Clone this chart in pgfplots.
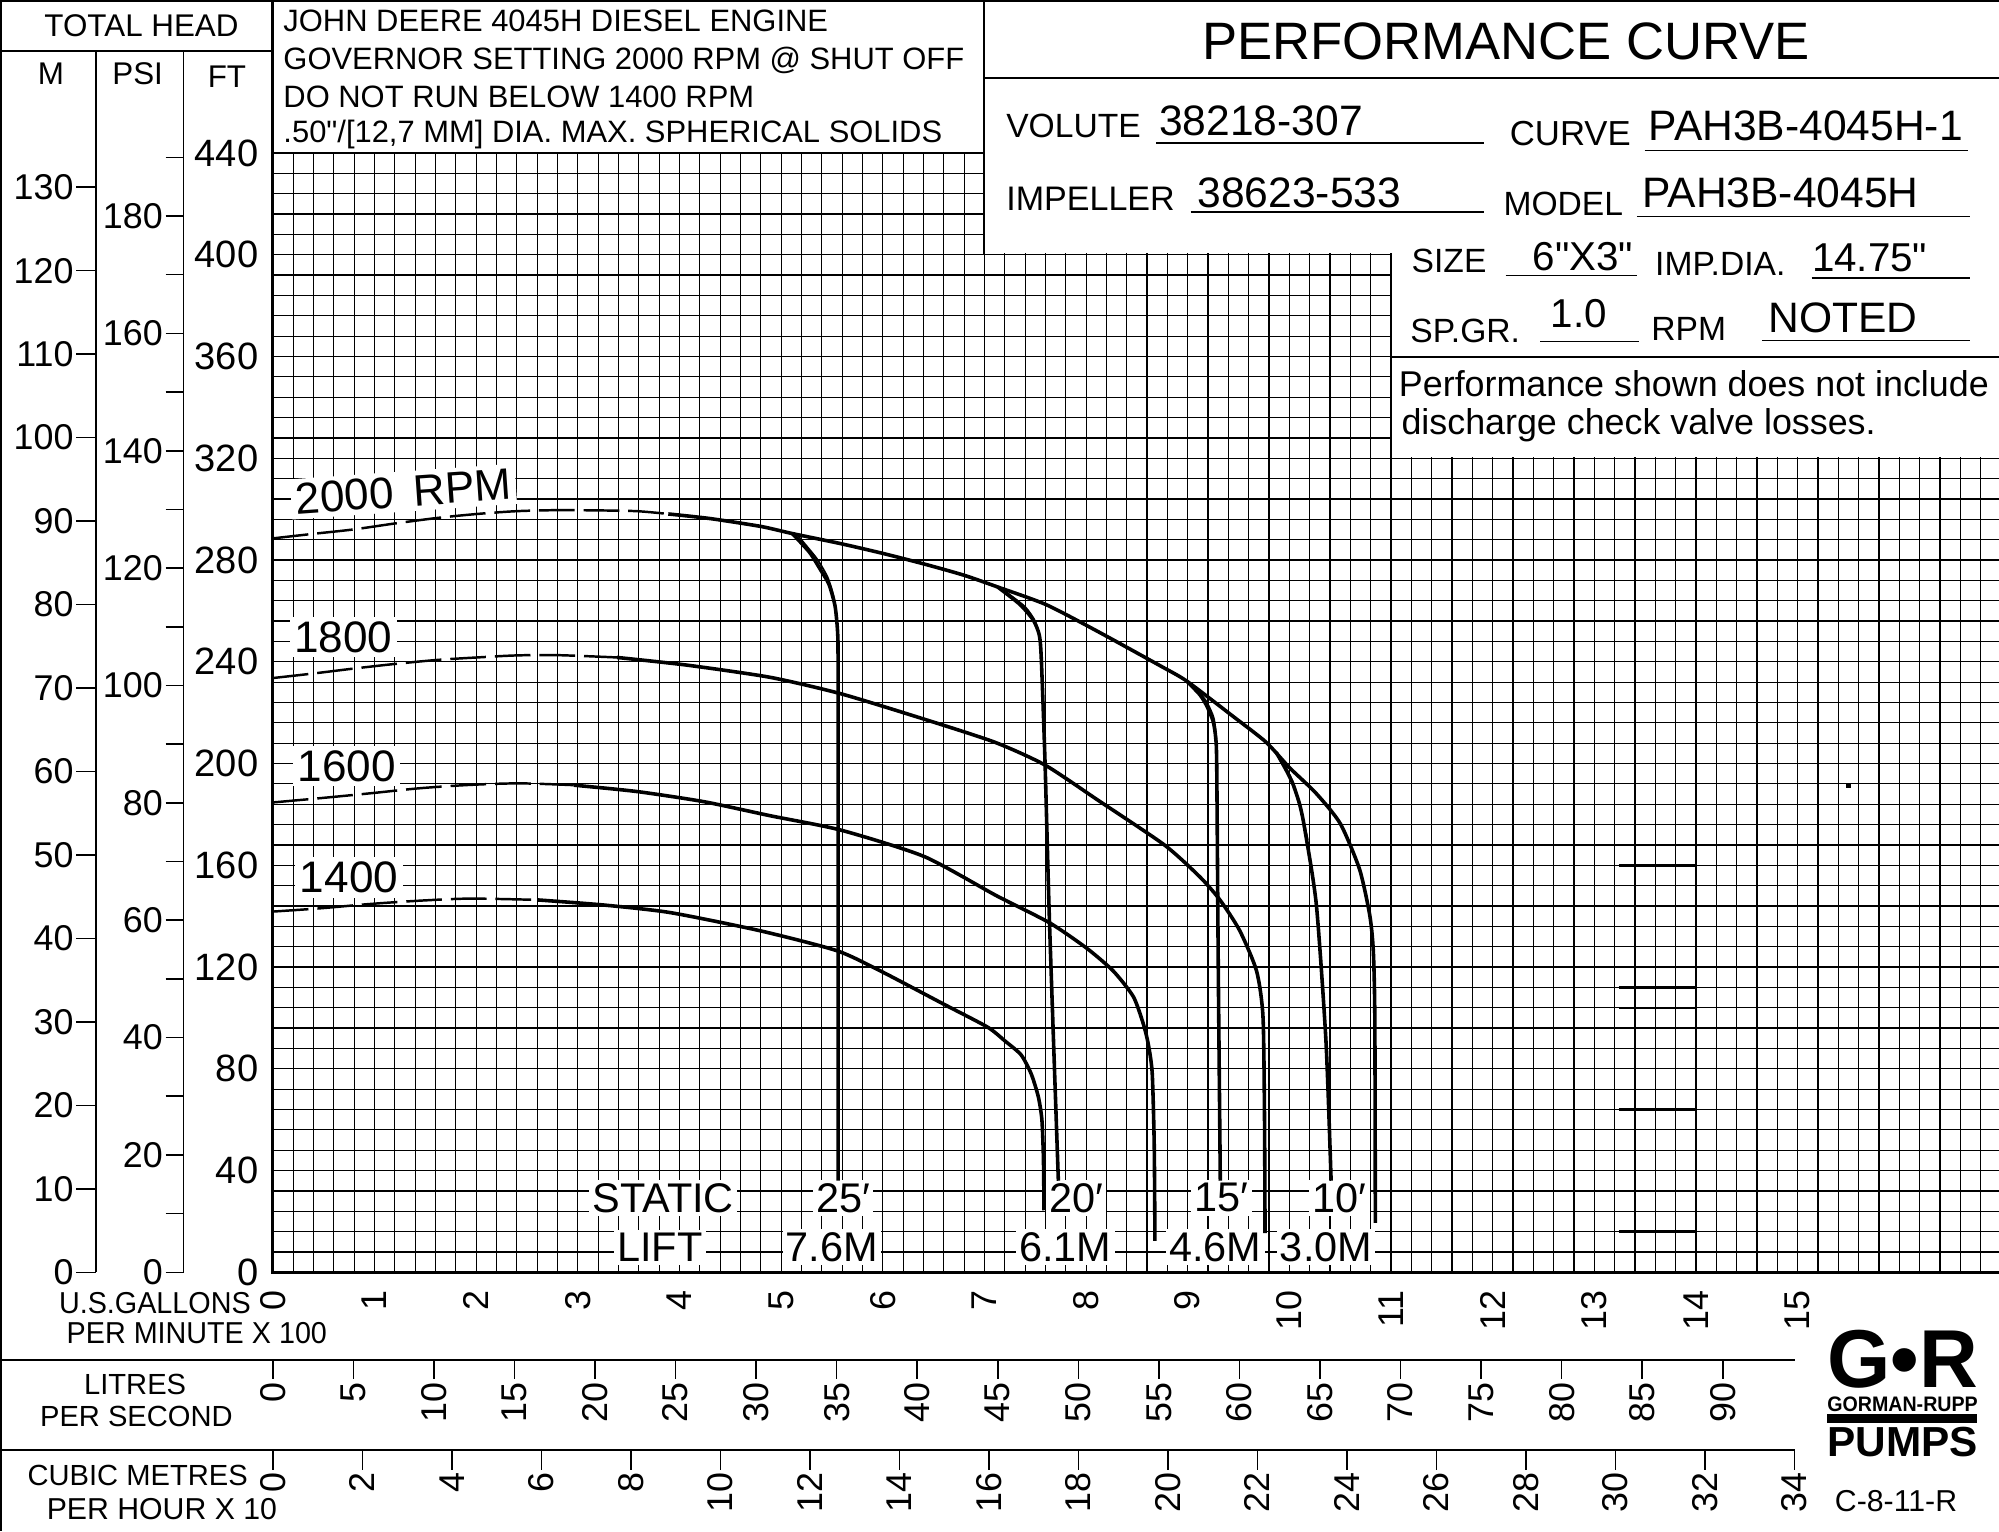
\documentclass[border=0pt]{standalone}
\usepackage{fontspec}
\setmainfont{Liberation Sans}
\newfontfamily\narrowfont{Liberation Sans}[FakeStretch=0.95]
\newfontfamily\qfont{Liberation Sans}
\usepackage{graphicx}
\usepackage{pgfplots}
\pgfplotsset{compat=1.18}
\newcommand{\FS}[1]{\fontsize{#1}{#1}\selectfont}
\newcommand{\dq}{{\qfont\symbol{34}}}

\begin{document}
\begin{tikzpicture}
\useasboundingbox (0,0) rectangle (313.6mm,240.2mm);
\begin{axis}[
  at={(42.8mm,40.6mm)}, anchor=south west, scale only axis,
  width=270.8mm, height=175.6mm,
  xmin=0, xmax=1698, ymin=0, ymax=440,
  axis line style={draw=none},
  xtick={0,20,...,1680}, ytick={0,8,...,440},
  xticklabels={}, yticklabels={},
  major tick length=0pt,
  grid=major,
  major grid style={black, line width=0.55pt},
]
% cut-outs of the grid
\fill[white] (axis cs:700.6,400.5) rectangle (axis cs:1698,441);
\fill[white] (axis cs:1100.6,320.5) rectangle (axis cs:1698,441);

% speed labels
\node[fill=white, inner sep=2pt, rotate=4] at (axis cs:128.4,306.9) {\FS{19.7pt}2000\hspace{0.45em}RPM};
\node[fill=white, inner sep=2pt] at (axis cs:69.4,249.6) {\FS{19.7pt}1800};
\node[fill=white, inner sep=2pt] at (axis cs:72.7,199.1) {\FS{19.7pt}1600};
\node[fill=white, inner sep=2pt] at (axis cs:75,155.2) {\FS{19.7pt}1400};

% static lift labels
\node[fill=white, inner sep=1.5pt] at (axis cs:384,29.3) {\FS{18.5pt}STATIC};
\node[fill=white, inner sep=1.5pt] at (axis cs:380.6,9.8) {\FS{18.5pt}LIFT};
\node[fill=white, inner sep=1.5pt] at (axis cs:561,29.3) {\FS{18.5pt}25′};
\node[fill=white, inner sep=1.5pt] at (axis cs:550,9.8) {\FS{18.5pt}7.6M};
\node[fill=white, inner sep=1.5pt] at (axis cs:790,29.3) {\FS{18.5pt}20′};
\node[fill=white, inner sep=1.5pt] at (axis cs:779.5,9.8) {\FS{18.5pt}6.1M};
\node[fill=white, inner sep=1.5pt] at (axis cs:933,29.3) {\FS{18.5pt}15′};
\node[fill=white, inner sep=1.5pt] at (axis cs:927,9.8) {\FS{18.5pt}4.6M};
\node[fill=white, inner sep=1.5pt] at (axis cs:1049,29.3) {\FS{18.5pt}10′};
\node[fill=white, inner sep=1.5pt] at (axis cs:1036,9.8) {\FS{18.5pt}3.0M};

% ---- 2000 RPM ----
\addplot[black, line width=1.1pt, dash pattern=on 5.6mm off 1.4mm, smooth] coordinates {
 (0,288.5) (40,290.3) (79,292) (119,294.3) (161,296.5) (201,298.1) (240,299.2)
 (280,299.6) (319,299.5) (358,299.2) (389,298.1)};
\addplot[black, line width=1.6pt, smooth, tension=0.4] coordinates {
 (389,298.1) (430,296.3) (480,293.2) (511,290.4) (559,286.4) (600,282.6) (641,278.4)
 (680,274) (713,269.4) (761,262.4) (812,251.8) (873,238.4) (899,232.4) (945,218.4)
 (977,208.4) (1000,198.4) (1026,188.4) (1050,176.4) (1069,158.4) (1079,140.4)
 (1082.5,126.4) (1084,100) (1084.5,19.4)};
% 25 ft lift
\addplot[black, line width=1.6pt, smooth, tension=0.4] coordinates {
 (511,290.4) (528,283) (539,276) (547,270.5) (553,262) (555.5,252) (556,240) (556,150) (556,36)};
\addplot[black, line width=0.8pt, smooth, tension=0.4] coordinates {
 (516,289.8) (535,280.6) (546,273) (552,265) (554.8,255) (555.6,245)};
% 20 ft lift
\addplot[black, line width=1.6pt, smooth, tension=0.4] coordinates {
 (713,269.4) (735,262.5) (748,256.4) (754,250.4) (756,240.4) (759.6,200.4) (764,137.4) (772.7,36)};
\addplot[black, line width=0.8pt, smooth, tension=0.4] coordinates {
 (722,267.2) (740,261.6) (750,255.8) (755,248) (756.5,238)};
% 15 ft lift
\addplot[black, line width=1.6pt, smooth, tension=0.4] coordinates {
 (899,232.4) (912,227) (919,222.4) (925,216.5) (927.5,210) (928.5,198.4) (930,120) (932,36)};
\addplot[black, line width=0.8pt, smooth, tension=0.4] coordinates {
 (906,230.4) (918,224.6) (925.5,218) (928,210) (929,198)};
% 10 ft lift
\addplot[black, line width=1.6pt, smooth, tension=0.4] coordinates {
 (987,204.4) (996,198) (1003,192.4) (1010,184) (1015,174.4) (1026.5,144.4) (1036,90.4) (1041,36)};
\addplot[black, line width=0.8pt, smooth, tension=0.4] coordinates {
 (993,201.5) (1005,191) (1013,179) (1018,170)};

% ---- 1800 RPM ----
\addplot[black, line width=1.1pt, dash pattern=on 5.6mm off 1.4mm, smooth] coordinates {
 (0,233.6) (40,235.4) (79,237.3) (119,239.1) (161,240.7) (201,241.7) (240,242.5)
 (280,242.6) (338.5,241.7)};
\addplot[black, line width=1.6pt, smooth, tension=0.4] coordinates {
 (338.5,241.7) (407,238.7) (489,233.9) (559,227.4) (641,217.4) (710,208.4) (759.6,199.4)
 (812,185.5) (877,168) (912,155.4) (931.6,146.4) (951,134.4) (967.7,118.4) (974,100.4)
 (975.5,60) (976,15.4)};

% ---- 1600 RPM ----
\addplot[black, line width=1.1pt, dash pattern=on 5.6mm off 1.4mm, smooth] coordinates {
 (0,184.7) (47,186.4) (96,188.3) (145,190.3) (194,191.6) (243,192.2) (296,191.5)};
\addplot[black, line width=1.6pt, smooth, tension=0.4] coordinates {
 (296,191.5) (358,189) (424,185) (489,179.5) (559,173.8) (641,163.4) (712,148)
 (764,137.4) (800.6,127.4) (826.8,118.4) (846.4,108.4) (856,98) (861,90) (865,78.4)
 (867,50) (867.7,12.4)};

% ---- 1400 RPM ----
\addplot[black, line width=1.1pt, dash pattern=on 5.6mm off 1.4mm, smooth] coordinates {
 (0,141.8) (47,143.1) (96,144.8) (145,146.1) (194,146.9) (260,146.4)};
\addplot[black, line width=1.6pt, smooth, tension=0.4] coordinates {
 (260,146.4) (325,144.4) (391,141.4) (480,134.2) (555,126.4) (598,118.4) (660,105.4)
 (703,96.4) (720,91) (736,85.5) (746,78) (753,69) (756.5,60) (758,45) (758.6,24.4)};

% stray segments in the lower right of the sheet
\addplot[black, line width=1.1pt] coordinates {(1324,160) (1400,160)};
\addplot[black, line width=1.1pt] coordinates {(1324,112) (1400,112)};
\addplot[black, line width=1.1pt] coordinates {(1324,104) (1400,104)};
\addplot[black, line width=1.1pt] coordinates {(1324,64) (1400,64)};
\addplot[black, line width=1.1pt] coordinates {(1324,32) (1400,32)};
\addplot[black, line width=1.1pt] coordinates {(1324,16) (1400,16)};
\addplot[black, only marks, mark=square*, mark size=0.8pt] coordinates {(1550,191.4)};
\end{axis}

\begin{scope}[x=0.2mm, y=-0.2mm, yshift=240.2mm]
% frame lines
\draw[line width=0.8pt] (0.6,0) -- (0.6,1201);
\draw[line width=0.8pt] (0,0.6) -- (1568,0.6);
\draw[line width=0.8pt] (0,40) -- (214,40);
\draw[line width=0.8pt] (75,40) -- (75,998);
\draw[line width=0.8pt] (144,40) -- (144,998);
\draw[line width=1.3pt] (214,0) -- (214,998) -- (1568,998);
\draw[line width=0.8pt] (214,120) -- (772,120);
\draw[line width=0.8pt] (772,0) -- (772,200);
\draw[line width=0.8pt] (772,61) -- (1568,61);
\draw[line width=0.8pt] (1091,280) -- (1568,280);
\draw[line width=0.9pt] (0,1067) -- (1408,1067);
\draw[line width=0.9pt] (0,1137) -- (1408,1137);

% head scales
\node at (111,20) {\FS{14pt}TOTAL HEAD};
\node at (40,58) {\FS{14pt}M};
\node at (108,58) {\FS{14pt}PSI};
\node at (178,60) {\FS{14pt}FT};
\foreach \m in {0,10,...,130} {
  \draw[line width=0.7pt] (60,{998-6.547*\m}) -- (75,{998-6.547*\m});
  \node[anchor=east, inner sep=0pt] at (58,{998-6.547*\m}) {\FS{16pt}\m};
}
\foreach \p in {0,10,...,190} {
  \draw[line width=0.7pt] (130,{998-4.603*\p}) -- (144,{998-4.603*\p});
}
\foreach \p in {0,20,...,180} {
  \node[anchor=east, inner sep=0pt] at (128,{998-4.603*\p}) {\FS{16pt}\p};
}
\foreach \f in {0,40,...,440} {
  \node[anchor=east, inner sep=0pt] at (203,{998-1.9955*\f}) {\FS{17pt}\f};
}

% flow scales
\foreach \g in {0,...,15} {
  \node[rotate=90, anchor=east, inner sep=0pt] at ({214+79.73*\g},1012) {\FS{16pt}\g};
}
\node[anchor=base east, inner sep=0pt] at (197,1030) {\narrowfont\FS{13.5pt}U.S.GALLONS};
\node[anchor=base west, inner sep=0pt] at (52,1054) {\narrowfont\FS{13.5pt}PER MINUTE X 100};
\node at (106,1086) {\FS{13pt}LITRES};
\node at (107,1111) {\FS{13pt}PER SECOND};
\node at (108,1157) {\FS{13pt}CUBIC METRES};
\node at (127,1184) {\FS{13.5pt}PER HOUR X 10};
\foreach \l in {0,5,...,90} {
  \draw[line width=0.7pt] ({214+12.637*\l},1067) -- ({214+12.637*\l},1082);
  \node[rotate=90, anchor=east, inner sep=0pt] at ({214+12.637*\l},1084) {\FS{16pt}\l};
}
\foreach \v in {0,2,...,34} {
  \draw[line width=0.7pt] ({214+35.104*\v},1137) -- ({214+35.104*\v},1153);
  \node[rotate=90, anchor=east, inner sep=0pt] at ({214+35.104*\v},1155) {\FS{16pt}\v};
}

% notes box
\node[anchor=base west, inner sep=0pt] at (222,25) {\FS{13.8pt}JOHN DEERE 4045H DIESEL ENGINE};
\node[anchor=base west, inner sep=0pt] at (222,54.5) {\FS{13.8pt}GOVERNOR SETTING 2000 RPM @ SHUT OFF};
\node[anchor=base west, inner sep=0pt] at (222,84) {\FS{13.8pt}DO NOT RUN BELOW 1400 RPM};
\node[anchor=base west, inner sep=0pt] at (222,112) {\FS{13.8pt}.50\dq/[12,7 MM] DIA. MAX. SPHERICAL SOLIDS};

% title block
\node[anchor=base, inner sep=0pt] at (1181.5,47) {\FS{23.5pt}PERFORMANCE CURVE};
\node[anchor=base west, inner sep=0pt] at (789,108) {\FS{15pt}VOLUTE};
\node[anchor=base west, inner sep=0pt] at (909,106) {\FS{19pt}38218-307};
\node[anchor=base west, inner sep=0pt] at (1184,114) {\FS{15.5pt}CURVE};
\node[anchor=base west, inner sep=0pt] at (1293,110) {\FS{19pt}PAH3B-4045H-1};
\node[anchor=base west, inner sep=0pt] at (789,165) {\FS{15.2pt}IMPELLER};
\node[anchor=base west, inner sep=0pt] at (939,163) {\FS{19pt}38623-533};
\node[anchor=base west, inner sep=0pt] at (1179,169) {\FS{15pt}MODEL};
\node[anchor=base west, inner sep=0pt] at (1288,163) {\FS{19pt}PAH3B-4045H};
\node[anchor=base west, inner sep=0pt] at (1107,214) {\FS{15pt}SIZE};
\node[anchor=base west, inner sep=0pt] at (1202,212) {\FS{18pt}6\dq X3\dq};
\node[anchor=base west, inner sep=0pt] at (1298,216) {\FS{15pt}IMP.DIA.};
\node[anchor=base west, inner sep=0pt] at (1421,213) {\FS{18pt}14.75\dq};
\node[anchor=base west, inner sep=0pt] at (1106,269) {\FS{15pt}SP.GR.};
\node[anchor=base west, inner sep=0pt] at (1216,257) {\FS{18pt}1.0};
\node[anchor=base west, inner sep=0pt] at (1295,267) {\FS{15pt}RPM};
\node[anchor=base west, inner sep=0pt] at (1387,261) {\FS{19pt}NOTED};
\draw[line width=0.7pt] (907,112) -- (1164,112);
\draw[line width=0.7pt] (1290,118) -- (1544,118);
\draw[line width=0.7pt] (934,166.5) -- (1164,166.5);
\draw[line width=0.7pt] (1284,170) -- (1545,170);
\draw[line width=0.7pt] (1181,216) -- (1284,216);
\draw[line width=0.7pt] (1421,218) -- (1545,218);
\draw[line width=0.7pt] (1208,268) -- (1286,268);
\draw[line width=0.7pt] (1382,267) -- (1545,267);
\node[anchor=base west, inner sep=0pt] at (1097,311) {\FS{16pt}Performance shown does not include};
\node[anchor=base west, inner sep=0pt] at (1099,341) {\FS{16pt}discharge check valve losses.};

% logo
\node[anchor=south west, inner sep=0pt] at (1433,1089) {\resizebox{23.6mm}{9.0mm}{\bfseries G\textbullet R}};
\node[anchor=south west, inner sep=0pt] at (1433,1107.5) {\resizebox{23.6mm}{2.3mm}{\bfseries GORMAN-RUPP}};
\fill (1433,1109.5) rectangle (1551,1116);
\node[anchor=south west, inner sep=0pt] at (1433,1143) {\resizebox{23.6mm}{4.6mm}{\bfseries PUMPS}};
\node[anchor=base west, inner sep=0pt] at (1439,1186) {\FS{13.5pt}C-8-11-R};
\end{scope}
\end{tikzpicture}
\end{document}
